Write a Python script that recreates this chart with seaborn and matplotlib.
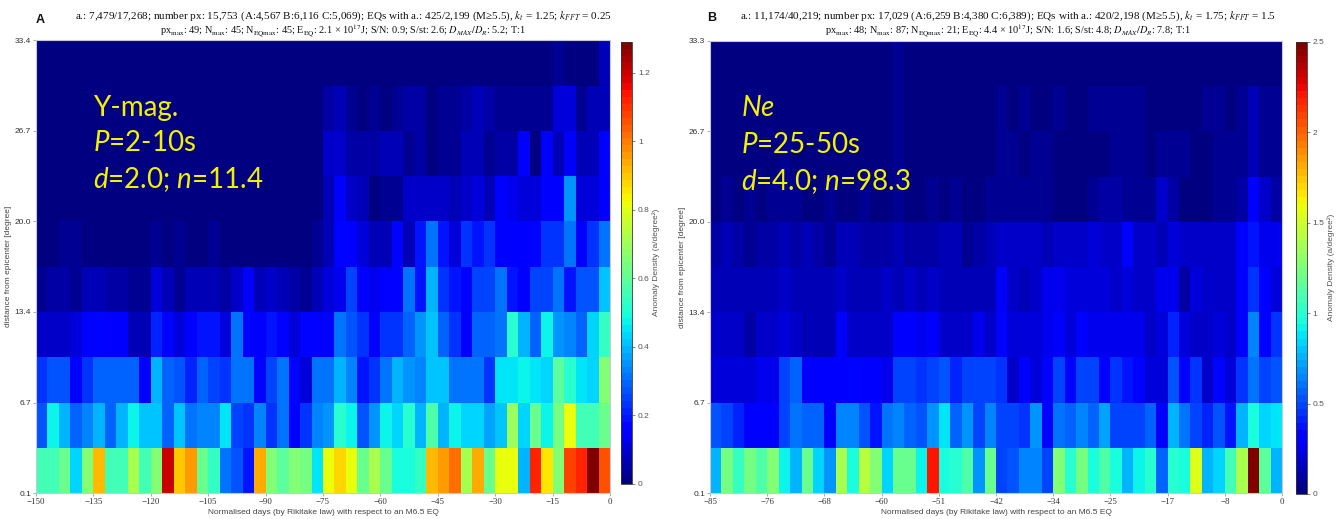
import numpy as np
import pandas as pd
import matplotlib
matplotlib.use("Agg")
import matplotlib.pyplot as plt
import seaborn as sns

sns.set_theme(style="white")
plt.rcParams['font.family'] = ['Liberation Sans', 'DejaVu Sans']
plt.rcParams['mathtext.fontset'] = 'custom'
plt.rcParams['mathtext.rm'] = 'Lato'
plt.rcParams['mathtext.it'] = 'Lato:italic'
plt.rcParams['mathtext.bf'] = 'Lato:bold'
plt.rcParams['mathtext.sf'] = 'Lato'

# ---------------- Panel A: Y-mag., 50 bins of 3 days, 10 distance bands ----------------
a_day_ticks = [-150, -135, -120, -105, -90, -75, -60, -45, -30, -15, 0]
a_dist_ticks = ["0.1", "6.7", "13.4", "20.0", "26.7", "33.4"]
a_cbar_ticks = [0, 0.2, 0.4, 0.6, 0.8, 1.0, 1.2]
a_cbar_labels = ["0", "0.2", "0.4", "0.6", "0.8", "1", "1.2"]
a_vmax = 1.29

# rows listed from the nearest band (0.1-3.4 deg) to the farthest (30.0-33.4 deg)
a_band0 = [0.56, 0.56, 0.61, 0.44, 0.66, 0.92, 0.56, 0.56, 0.72, 0.56, 0.65, 1.20, 0.90, 0.95, 0.61, 0.54, 0.31, 0.28, 0.19, 0.93, 0.65, 0.59, 0.65, 0.63, 0.46,
           0.81, 0.88, 0.81, 0.61, 0.72, 0.62, 0.49, 0.49, 0.54, 0.92, 0.95, 1.02, 0.72, 0.93, 0.61, 0.81, 0.81, 0.40, 1.12, 0.86, 0.65, 1.07, 1.11, 1.29, 1.05]
a_band1 = [0.27, 0.48, 0.39, 0.29, 0.34, 0.39, 0.29, 0.40, 0.48, 0.42, 0.42, 0.29, 0.42, 0.31, 0.34, 0.34, 0.45, 0.26, 0.23, 0.34, 0.23, 0.32, 0.145, 0.23, 0.34,
           0.35, 0.52, 0.48, 0.28, 0.35, 0.47, 0.44, 0.52, 0.39, 0.58, 0.39, 0.47, 0.44, 0.44, 0.37, 0.42, 0.69, 0.44, 0.62, 0.47, 0.64, 0.81, 0.56, 0.56, 0.62]
a_band2 = [0.24, 0.27, 0.27, 0.16, 0.23, 0.29, 0.29, 0.29, 0.29, 0.16, 0.40, 0.29, 0.27, 0.21, 0.29, 0.26, 0.24, 0.32, 0.31, 0.18, 0.26, 0.32, 0.18, 0.12, 0.31,
           0.31, 0.40, 0.34, 0.19, 0.24, 0.31, 0.40, 0.36, 0.34, 0.42, 0.42, 0.31, 0.31, 0.32, 0.24, 0.45, 0.45, 0.48, 0.45, 0.44, 0.60, 0.52, 0.45, 0.44, 0.65]
a_band3 = [0.10, 0.10, 0.10, 0.11, 0.16, 0.18, 0.16, 0.145, 0.08, 0.08, 0.21, 0.18, 0.11, 0.145, 0.19, 0.19, 0.11, 0.32, 0.18, 0.145, 0.19, 0.18, 0.11, 0.18, 0.145,
           0.16, 0.32, 0.27, 0.24, 0.145, 0.24, 0.24, 0.29, 0.36, 0.42, 0.29, 0.23, 0.16, 0.29, 0.29, 0.32, 0.52, 0.40, 0.29, 0.48, 0.36, 0.34, 0.29, 0.44, 0.54]
a_band4 = [0.03, 0.05, 0.05, 0.03, 0.08, 0.08, 0.05, 0.05, 0.03, 0.03, 0.11, 0.08, 0.03, 0.065, 0.065, 0.065, 0.05, 0.10, 0.145, 0.065, 0.10, 0.08, 0.05, 0.03, 0.08,
           0.11, 0.13, 0.26, 0.16, 0.13, 0.16, 0.18, 0.31, 0.19, 0.39, 0.23, 0.19, 0.16, 0.26, 0.26, 0.31, 0.19, 0.16, 0.26, 0.26, 0.31, 0.19, 0.27, 0.27, 0.42]
a_band5 = [0.0, 0.0, 0.026, 0.026, 0.0, 0.0, 0.0, 0.016, 0.0, 0.0, 0.026, 0.0, 0.026, 0.016, 0.0, 0.03, 0.016, 0.0, 0.016, 0.016, 0.016, 0.016, 0.0, 0.0, 0.03,
           0.08, 0.18, 0.16, 0.11, 0.065, 0.065, 0.18, 0.08, 0.19, 0.32, 0.19, 0.11, 0.24, 0.19, 0.23, 0.16, 0.16, 0.16, 0.18, 0.24, 0.24, 0.31, 0.16, 0.23, 0.31]
a_band6 = [0.0, 0.0, 0.0, 0.0, 0.01, 0.0, 0.0, 0.0, 0.0, 0.0, 0.01, 0.0, 0.0, 0.0, 0.0, 0.0, 0.0, 0.01, 0.0, 0.0, 0.0, 0.0, 0.0, 0.0, 0.01,
           0.08, 0.145, 0.10, 0.08, 0.016, 0.03, 0.03, 0.10, 0.10, 0.10, 0.10, 0.08, 0.10, 0.11, 0.08, 0.145, 0.13, 0.11, 0.11, 0.145, 0.16, 0.36, 0.11, 0.11, 0.16]
a_band7 = [0.0, 0.0, 0.0, 0.0, 0.0, 0.0, 0.0, 0.0, 0.0, 0.0, 0.0, 0.0, 0.0, 0.0, 0.0, 0.0, 0.0, 0.0, 0.0, 0.0, 0.0, 0.0, 0.0, 0.0, 0.0,
           0.10, 0.10, 0.05, 0.05, 0.05, 0.065, 0.065, 0.03, 0.05, 0.016, 0.03, 0.035, 0.08, 0.08, 0.03, 0.05, 0.05, 0.145, 0.016, 0.145, 0.08, 0.16, 0.08, 0.08, 0.16]
a_band8 = [0.0, 0.0, 0.0, 0.0, 0.0, 0.0, 0.0, 0.0, 0.0, 0.0, 0.0, 0.0, 0.0, 0.0, 0.0, 0.0, 0.0, 0.0, 0.0, 0.0, 0.0, 0.0, 0.0, 0.0, 0.0,
           0.05, 0.065, 0.035, 0.016, 0.035, 0.016, 0.035, 0.05, 0.05, 0.016, 0.03, 0.035, 0.05, 0.065, 0.05, 0.03, 0.035, 0.03, 0.035, 0.03, 0.11, 0.11, 0.03, 0.08, 0.065]
a_band9 = [0.0, 0.0, 0.0, 0.0, 0.0, 0.0, 0.0, 0.0, 0.0, 0.0, 0.0, 0.0, 0.0, 0.0, 0.0, 0.0, 0.0, 0.0, 0.0, 0.0, 0.0, 0.0, 0.0, 0.0, 0.0,
           0.0, 0.0, 0.0, 0.0, 0.0, 0.0, 0.0, 0.0, 0.0, 0.0, 0.0, 0.0, 0.0, 0.0, 0.0, 0.0, 0.0, 0.0, 0.0, 0.0, 0.03, 0.016, 0.016, 0.0, 0.065]

# ---------------- Panel B: Ne, 50 bins of 1.7 days, 10 distance bands ----------------
b_day_ticks = ["-85", "-76", "-68", "-60", "-51", "-42", "-34", "-25", "-17", "-8", "0"]
b_dist_ticks = ["0.1", "6.7", "13.4", "20.0", "26.7", "33.3"]
b_cbar_ticks = [0, 0.5, 1.0, 1.5, 2.0, 2.5]
b_cbar_labels = ["0", "0.5", "1", "1.5", "2", "2.5"]
b_vmax = 2.5

b_band0 = [0.78, 1.23, 1.03, 1.23, 1.10, 1.25, 0.93, 0.78, 1.18, 0.85, 0.68, 1.40, 0.94, 1.44, 1.25, 0.85, 1.18, 1.18, 0.93, 2.19, 0.95, 1.00, 1.13, 0.68, 1.18,
           0.50, 0.53, 0.63, 0.63, 0.47, 1.25, 1.00, 1.22, 0.97, 1.13, 0.94, 0.75, 0.92, 1.00, 0.56, 1.00, 0.94, 1.53, 0.78, 0.84, 1.09, 1.38, 2.50, 1.15, 0.78]
b_band1 = [0.53, 0.50, 0.41, 0.31, 0.30, 0.31, 0.50, 0.59, 0.56, 0.56, 0.31, 0.625, 0.625, 0.53, 0.375, 0.59, 0.66, 0.56, 0.53, 0.69, 0.875, 0.56, 0.69, 0.50, 0.66,
           0.50, 0.50, 0.44, 0.69, 0.34, 0.59, 0.56, 0.625, 0.56, 0.72, 0.47, 0.50, 0.50, 0.56, 0.31, 0.78, 0.59, 0.47, 0.41, 0.53, 0.375, 0.78, 0.94, 0.84, 0.875]
b_band2 = [0.22, 0.22, 0.22, 0.22, 0.25, 0.25, 0.50, 0.56, 0.28, 0.28, 0.28, 0.31, 0.34, 0.31, 0.28, 0.25, 0.50, 0.50, 0.44, 0.50, 0.53, 0.41, 0.47, 0.50, 0.50,
           0.44, 0.19, 0.31, 0.22, 0.28, 0.50, 0.34, 0.47, 0.50, 0.28, 0.44, 0.375, 0.34, 0.22, 0.22, 0.53, 0.28, 0.44, 0.19, 0.34, 0.22, 0.44, 0.59, 0.47, 0.53]
b_band3 = [0.16, 0.16, 0.16, 0.09, 0.16, 0.16, 0.22, 0.16, 0.125, 0.125, 0.125, 0.28, 0.16, 0.16, 0.16, 0.16, 0.28, 0.28, 0.25, 0.28, 0.19, 0.16, 0.19, 0.25, 0.19,
           0.34, 0.22, 0.22, 0.22, 0.25, 0.31, 0.22, 0.31, 0.25, 0.25, 0.25, 0.25, 0.25, 0.16, 0.22, 0.41, 0.22, 0.16, 0.19, 0.22, 0.16, 0.31, 0.625, 0.31, 0.44]
b_band4 = [0.12, 0.14, 0.12, 0.12, 0.12, 0.14, 0.19, 0.14, 0.12, 0.12, 0.12, 0.16, 0.14, 0.14, 0.14, 0.16, 0.14, 0.16, 0.12, 0.19, 0.14, 0.12, 0.14, 0.12, 0.12,
           0.31, 0.19, 0.125, 0.19, 0.25, 0.25, 0.22, 0.22, 0.22, 0.22, 0.19, 0.22, 0.19, 0.16, 0.25, 0.25, 0.09, 0.22, 0.19, 0.19, 0.19, 0.31, 0.44, 0.31, 0.22]
b_band5 = [0.09, 0.12, 0.09, 0.06, 0.09, 0.09, 0.12, 0.09, 0.12, 0.09, 0.06, 0.12, 0.12, 0.09, 0.09, 0.09, 0.12, 0.09, 0.09, 0.09, 0.12, 0.12, 0.06, 0.09, 0.12,
           0.16, 0.16, 0.19, 0.16, 0.125, 0.16, 0.19, 0.19, 0.22, 0.16, 0.16, 0.28, 0.19, 0.16, 0.125, 0.22, 0.19, 0.16, 0.16, 0.16, 0.16, 0.31, 0.375, 0.25, 0.25]
b_band6 = [0.03, 0.05, 0.03, 0.05, 0.03, 0.06, 0.05, 0.05, 0.03, 0.03, 0.05, 0.03, 0.03, 0.05, 0.03, 0.03, 0.07, 0.03, 0.03, 0.05, 0.03, 0.05, 0.03, 0.03, 0.05,
           0.06, 0.06, 0.06, 0.06, 0.06, 0.03, 0.03, 0.03, 0.075, 0.09, 0.09, 0.075, 0.06, 0.06, 0.16, 0.09, 0.03, 0.03, 0.03, 0.06, 0.06, 0.09, 0.28, 0.16, 0.09]
b_band7 = [0.02, 0.03, 0.02, 0.02, 0.02, 0.03, 0.04, 0.02, 0.02, 0.02, 0.03, 0.02, 0.02, 0.02, 0.03, 0.02, 0.06, 0.02, 0.02, 0.03, 0.02, 0.02, 0.03, 0.02, 0.03,
           0.06, 0.06, 0.03, 0.075, 0.075, 0.03, 0.03, 0.03, 0.03, 0.03, 0.06, 0.06, 0.06, 0.03, 0.06, 0.06, 0.06, 0.03, 0.03, 0.06, 0.06, 0.06, 0.125, 0.05, 0.05]
b_band8 = [0.01, 0.01, 0.01, 0.01, 0.01, 0.02, 0.03, 0.01, 0.01, 0.01, 0.01, 0.01, 0.01, 0.01, 0.01, 0.01, 0.06, 0.01, 0.01, 0.01, 0.01, 0.01, 0.02, 0.01, 0.01,
           0.06, 0.03, 0.06, 0.03, 0.03, 0.06, 0.03, 0.03, 0.06, 0.06, 0.06, 0.06, 0.06, 0.03, 0.03, 0.03, 0.03, 0.03, 0.06, 0.06, 0.03, 0.05, 0.125, 0.06, 0.06]
b_band9 = [0.0, 0.0, 0.0, 0.0, 0.0, 0.0, 0.0, 0.0, 0.0, 0.0, 0.0, 0.0, 0.0, 0.0, 0.0, 0.0, 0.04, 0.0, 0.0, 0.0, 0.0, 0.0, 0.0, 0.0, 0.0,
           0.0, 0.0, 0.0, 0.0, 0.0, 0.0, 0.0, 0.0, 0.0, 0.0, 0.03, 0.0, 0.0, 0.0, 0.0, 0.0, 0.0, 0.0, 0.0, 0.0, 0.0, 0.0, 0.0, 0.0, 0.0]

a_bands = [a_band0, a_band1, a_band2, a_band3, a_band4, a_band5, a_band6, a_band7, a_band8, a_band9]
b_bands = [b_band0, b_band1, b_band2, b_band3, b_band4, b_band5, b_band6, b_band7, b_band8, b_band9]

a_header1 = r"a.: 7,479/17,268; number px: 15,753 (A:4,567 B:6,116 C:5,069); EQs with a.: 425/2,199 (M≥5.5), $k_t$ = 1.25; $k_{FFT}$ = 0.25"
a_header2 = r"px$_{\rm max}$: 49; N$_{\rm max}$: 45; N$_{\rm EQmax}$: 45; E$_{\rm EQ}$: 2.1 × 10$^{17}$J; S/N: 0.9; S/st: 2.6; $D_{MAX}/D_R$: 5.2; T:1"
b_header1 = r"a.: 11,174/40,219; number px: 17,029 (A:6,259 B:4,380 C:6,389); EQs with a.: 420/2,198 (M≥5.5), $k_t$ = 1.75; $k_{FFT}$ = 1.5"
b_header2 = r"px$_{\rm max}$: 48; N$_{\rm max}$: 87; N$_{\rm EQmax}$: 21; E$_{\rm EQ}$: 4.4 × 10$^{17}$J; S/N: 1.6; S/st: 4.8; $D_{MAX}/D_R$: 7.8; T:1"
a_overlay = ["Y-mag.", r"$P$=2-10s", r"$d$=2.0; $n$=11.4"]
b_overlay = [r"$Ne$", r"$P$=25-50s", r"$d$=4.0; $n$=98.3"]

xlabel = "Normalised days (by Rikitake law) with respect to an M6.5 EQ"
ylabel = "distance from epicenter [degree]"
cbar_label = "Anomaly Density (a/degree²)"

W, H = 1336, 519
fig = plt.figure(figsize=(W / 100, H / 100), dpi=100)
fig.patch.set_facecolor("white")


def frac(x0, y_top, x1, y_bot):
    return [x0 / W, 1 - y_bot / H, (x1 - x0) / W, (y_bot - y_top) / H]


ax_a = fig.add_axes(frac(36, 40.5, 610, 493))
cax_a = fig.add_axes(frac(620.7, 41.7, 632.3, 484))
ax_b = fig.add_axes(frac(710, 41, 1282, 493))
cax_b = fig.add_axes(frac(1295.7, 41.7, 1306.7, 494))

cmap = matplotlib.colormaps["jet"].resampled(64)
gray = "#444444"


def draw(ax, cax, bands, vmax, day_labels, dist_labels, cbar_ticks, cbar_labels,
         overlay, ox, oys, letter, lx, ly, h1, h2, hx):
    data = pd.DataFrame(np.array(bands[::-1]))
    sns.heatmap(data, ax=ax, cmap=cmap, vmin=0, vmax=vmax, cbar_ax=cax,
                xticklabels=False, yticklabels=False, linewidths=0,
                cbar_kws={"ticks": cbar_ticks})
    ncol = data.shape[1]
    nrow = data.shape[0]
    ax.set_xticks(np.linspace(0, ncol, len(day_labels)))
    ax.set_xticklabels([str(v).replace("-", "\u2212") for v in day_labels],
                       fontsize=6.4, family="Liberation Serif", color="#333333")
    ax.set_yticks(np.linspace(nrow, 0, len(dist_labels)))
    ax.set_yticklabels(dist_labels, fontsize=6, color="#333333")
    ax.tick_params(axis="both", which="both", length=2, width=0.5, color="#888888",
                   pad=1.5, bottom=True, left=True, direction="out")
    for s in ax.spines.values():
        s.set_visible(True)
        s.set_color("#c8c8d8")
        s.set_linewidth(0.8)
    ax.set_xlabel(xlabel, fontsize=6, color=gray, labelpad=2)
    ax.set_ylabel(ylabel, fontsize=6, color=gray, labelpad=2)

    cb = ax.collections[0].colorbar
    cb.outline.set_linewidth(0.6)
    cb.outline.set_edgecolor("#333333")
    cb.set_ticks(cbar_ticks)
    cb.set_ticklabels(cbar_labels)
    cax.tick_params(labelsize=6, labelcolor="#555555", length=2, width=0.5, color="#555555", pad=2)
    cb.set_label(cbar_label, fontsize=6, color="#555555", labelpad=2)

    for txt, oy in zip(overlay, oys):
        ax.text(ox, oy, txt, transform=ax.transAxes, ha="left", va="baseline",
                fontsize=20, color="#f2f200", family="Lato", math_fontfamily="custom")

    fig.text(lx / W, 1 - ly / H, letter, fontsize=9, fontweight="bold", color="#111111",
             ha="center", va="center")
    fig.text(hx / W, 1 - 16 / H, h1, fontsize=8.0, family="Liberation Serif",
             math_fontfamily="stix", ha="center", va="center", color="#111111")
    fig.text(hx / W, 1 - 31 / H, h2, fontsize=7.4, family="Liberation Serif",
             math_fontfamily="stix", ha="center", va="center", color="#111111")


draw(ax_a, cax_a, a_bands, a_vmax, a_day_ticks, a_dist_ticks, a_cbar_ticks, a_cbar_labels,
     a_overlay, 0.099, [0.834, 0.755, 0.673], "A", 40, 20, a_header1, a_header2, 343)
draw(ax_b, cax_b, b_bands, b_vmax, b_day_ticks, b_dist_ticks, b_cbar_ticks, b_cbar_labels,
     b_overlay, 0.055, [0.833, 0.752, 0.671], "B", 712, 18, b_header1, b_header2, 1008)

fig.savefig("out.png", dpi=100, facecolor="white")
